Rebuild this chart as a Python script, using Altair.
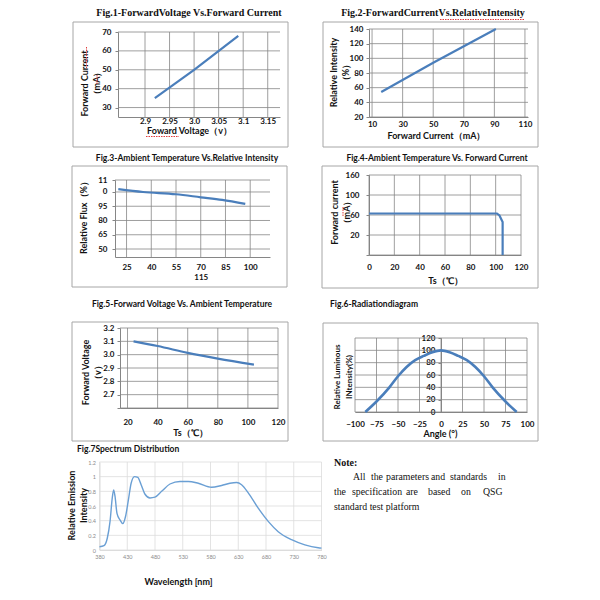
import altair as alt
import pandas as pd

# ---------------- data ----------------
fig1_voltage = [2.92, 3.00, 3.09]
fig1_current = [35, 50, 68]
fig1_xticks = [2.9, 2.95, 3.0, 3.05, 3.1, 3.15]
fig1_yticks = [30, 40, 50, 60, 70]

fig2_current = [16, 50, 91]
fig2_intensity = [54, 94, 140]
fig2_xticks = [10, 30, 50, 70, 90, 110]
fig2_yticks = [20, 40, 60, 80, 100, 120, 140]

fig3_temp = [20, 35, 55, 70, 83, 97]
fig3_flux = [113, 110, 107.6, 104.4, 101.6, 97.4]
fig3_xticks = [25, 40, 55, 70, 85, 100]
fig3_yticks = [50, 65, 80, 95, 110, 122.6]

fig4_temp = [0, 101, 103, 105.5, 105.5]
fig4_current = [83, 83, 79, 66, 0]
fig4_xticks = [0, 20, 40, 60, 80, 100, 120]
fig4_yticks = [0, 40, 80, 120, 160]

fig5_temp = [24, 40, 60, 80, 104]
fig5_voltage = [3.10, 3.065, 3.013, 2.97, 2.925]
fig5_xticks = [20, 40, 60, 80, 100, 120]
fig5_yticks = [2.6, 2.7, 2.8, 2.9, 3.0, 3.1, 3.2]

fig6_angle = [-88, -75, -60, -50, -40, -30, -20, -10, 0, 10, 20, 30, 40, 50, 60, 75, 88]
fig6_intensity = [0, 17, 40, 58, 73, 84, 91, 97, 100, 97, 91, 84, 73, 58, 40, 17, 0]
fig6_xticks = [-100, -75, -50, -25, 0, 25, 50, 75, 100]
fig6_yticks = [0, 20, 40, 60, 80, 100, 120]

fig7_wavelength = [380, 388, 394, 399, 403, 405.5, 408, 411.5, 417, 422, 427, 432, 437, 443,
                   449, 455, 462, 471, 480, 492, 507, 525, 540, 558, 582, 600, 615, 627, 636,
                   648, 666, 684, 702, 726, 750, 774, 780]
fig7_intensity = [0.045, 0.06, 0.16, 0.39, 0.71, 0.82, 0.73, 0.50, 0.41, 0.36, 0.46, 0.68, 0.91,
                  1.0, 0.99, 0.89, 0.76, 0.71, 0.72, 0.80, 0.90, 0.935, 0.935, 0.91, 0.855, 0.88,
                  0.91, 0.92, 0.89, 0.78, 0.57, 0.39, 0.25, 0.14, 0.07, 0.03, 0.025]
fig7_xticks = [380, 430, 480, 530, 580, 630, 680, 730, 780]
fig7_yticks = [0, 0.2, 0.4, 0.6, 0.8, 1.0, 1.2]

note_line1_words = ["All", "the", "parameters", "and", "standards", "in"]
note_line2_words = ["the", "specification", "are", "based", "on", "QSG"]
note_line3 = "standard test platform"

# ---------------- styling / layout ----------------
W, H, M = 584, 584, 8
BLUE = '#4a7ebb'
GRID = '#868686'
FRAME = '#a6a6a6'
SANS = 'Lato'
SERIF = 'Liberation Serif'


def panel(xs, ys, xdom, ydom, box, xticks, yticks, xlab=None, ylab=None,
          xtitle=None, xtpos=None, ytitle=None, ytpos=None, yaxis_at=None,
          xpad=3, ypad=4, fig7=False, interp='linear', color=BLUE, sw=2.2):
    left, right, top, bottom = box
    L, R, T, B = left - M, right - M, top - M, bottom - M
    df = pd.DataFrame({'x': xs, 'y': ys, 'i': list(range(len(xs)))})
    if fig7:
        lab = dict(labelFont=SANS, labelFontSize=5.5, labelFontWeight='normal', labelColor='#8c8c8c',
                   domainColor='#dcdcdc')
        gcol, gw = '#dcdcdc', 0.8
    else:
        lab = dict(labelFont=SANS, labelFontSize=8, labelFontWeight='bold', labelColor='#111111',
                   domainColor=GRID)
        gcol, gw = GRID, 0.8
    xa = dict(orient='bottom', offset=B - H, values=xticks, grid=False, ticks=False,
              labelPadding=xpad, labelFlush=False, labelOverlap=False, **lab)
    if xlab:
        xa['labelExpr'] = xlab
    if xtitle:
        xa.update(title=xtitle, titleX=xtpos[0] - M, titleY=xtpos[1] - bottom, titleAlign='center',
                  titleBaseline='middle', titleFont=SANS, titleFontSize=9, titleFontWeight='bold',
                  titleColor='#111111')
    else:
        xa['title'] = None
    ax_x = L if yaxis_at is None else yaxis_at - M
    ya = dict(orient='left', offset=-ax_x, values=yticks, grid=False, labelPadding=ypad,
              labelFlush=False, labelOverlap=False, **lab)
    if fig7:
        ya['ticks'] = False
    else:
        ya.update(ticks=True, tickSize=3, tickColor=GRID)
    if ylab:
        ya['labelExpr'] = ylab
    if ytitle:
        ya.update(title=ytitle, titleX=ytpos[0] - M - ax_x, titleY=ytpos[1] - M, titleAlign='center',
                  titleBaseline='middle', titleAngle=270, titleFont=SANS, titleFontSize=9,
                  titleFontWeight='bold', titleColor='#111111', titleLineHeight=12.5)
    else:
        ya['title'] = None

    def xs_():
        return alt.Scale(domain=xdom, range=[L, R], nice=False, zero=False)

    def ys_():
        return alt.Scale(domain=ydom, range=[B, T], nice=False, zero=False)

    xgrid = alt.Chart(pd.DataFrame({'v': xticks})).mark_rule(color=gcol, strokeWidth=gw).encode(
        x=alt.X('v:Q', scale=xs_(), axis=None),
        y=alt.YDatum(ydom[0], scale=ys_(), axis=None),
        y2=alt.Y2Datum(ydom[1]))
    ygrid = alt.Chart(pd.DataFrame({'v': yticks})).mark_rule(color=gcol, strokeWidth=gw).encode(
        y=alt.Y('v:Q', scale=ys_(), axis=None),
        x=alt.XDatum(xdom[0], scale=xs_(), axis=None),
        x2=alt.X2Datum(xdom[1]))
    line = alt.Chart(df).mark_line(color=color, strokeWidth=sw, interpolate=interp).encode(
        x=alt.X('x:Q', scale=xs_(), axis=alt.Axis(**xa)),
        y=alt.Y('y:Q', scale=ys_(), axis=alt.Axis(**ya)),
        order='i:Q')
    return [xgrid, ygrid, line]


def txt(s, x, y, size=8.5, font=SANS, weight='bold', angle=0, align='center', baseline='middle',
        color='#111111', lh=None):
    kw = dict(text=s, fontSize=size, font=font, fontWeight=weight, align=align, baseline=baseline, color=color)
    if angle:
        kw['angle'] = angle
    if lh:
        kw['lineHeight'] = lh
    return alt.Chart(alt.Data(values=[{}])).mark_text(**kw).encode(x=alt.value(x - M), y=alt.value(y - M))


def frame(x0, y0, x1, y1):
    return alt.Chart(alt.Data(values=[{}])).mark_rect(fillOpacity=0, stroke=FRAME, strokeWidth=1).encode(
        x=alt.value(x0 - M), x2=alt.value(x1 - M), y=alt.value(y0 - M), y2=alt.value(y1 - M))


def squiggle(x0, y0, x1, y1):
    # spell-check style red dotted underline seen in the reference
    return alt.Chart(alt.Data(values=[{}])).mark_rule(color='#e03c3c', strokeWidth=1, strokeDash=[1.5, 1]).encode(
        x=alt.value(x0 - M), x2=alt.value(x1 - M), y=alt.value(y0 - M), y2=alt.value(y1 - M))


layers = [
    frame(73, 22, 288, 147), frame(323, 22, 538, 147),
    frame(72, 166, 287, 287), frame(322, 166, 538, 288),
    frame(72, 322, 288, 441), frame(323, 323, 538, 441),
]

layers += panel(fig1_voltage, fig1_current, [2.845, 3.175], [25, 70], (118, 280, 32, 117),
                fig1_xticks, fig1_yticks,
                xlab="datum.value == 3 ? '3.0' : format(datum.value, '.2~f')",
                xtitle='Foward Voltage（v）', xtpos=(189, 130),
                ytitle=['Forward Current', '（mA）'], ytpos=(84, 83), xpad=0, ypad=4)
layers += panel(fig2_current, fig2_intensity, [8, 112], [20, 140], (369, 528, 29, 117),
                fig2_xticks, fig2_yticks,
                xtitle='Forward Current（mA）', xtpos=(436, 135),
                ytitle=['Relative Intensity', '（%）'], ytpos=(333, 72), xpad=3, ypad=3)
layers += panel(fig3_temp, fig3_flux, [18, 112], [41.6, 122.6], (115, 270, 180, 257),
                fig3_xticks, fig3_yticks,
                xlab="datum.value == 70 ? ['70', '115'] : datum.label",
                ylab="datum.value == 110 ? '0' : (datum.value > 120 ? '11' : datum.label)",
                ytitle='Relative Flux（%）', ytpos=(83, 215), xpad=6, ypad=5, interp='monotone')
layers += panel(fig4_temp, fig4_current, [0, 120], [0, 160], (369, 521, 175, 255),
                fig4_xticks, fig4_yticks,
                ylab="datum.value == 0 ? '' : datum.value == 120 ? '100' : datum.value == 80 ? '60' : datum.value == 40 ? '20' : datum.label",
                xtitle='Ts（℃）', xtpos=(445, 280),
                ytitle=['Forward current', '（mA）'], ytpos=(334, 212), xpad=8, ypad=7)
layers += panel(fig5_temp, fig5_voltage, [15, 120], [2.6, 3.2], (120, 278, 328, 408),
                fig5_xticks, fig5_yticks,
                ylab="datum.value < 2.65 ? '' : format(datum.value, '.1f')",
                xtitle='Ts（℃）', xtpos=(190, 432),
                ytitle=['Forward Voltage', '（v）'], ytpos=(85, 372), xpad=10, ypad=3, interp='monotone')
layers += panel(fig6_angle, fig6_intensity, [-100, 100], [0, 120], (355, 527, 338, 412),
                fig6_xticks, fig6_yticks, yaxis_at=441,
                xtitle='Angle (°)', xtpos=(440, 433), xpad=8, ypad=3, interp='monotone', sw=2.6)
layers += panel(fig7_wavelength, fig7_intensity, [380, 780], [0, 1.2], (99.5, 321.5, 462, 550),
                fig7_xticks, fig7_yticks, ylab="format(datum.value, '~g')",
                xtitle='Wavelength [nm]', xtpos=(178, 581),
                ytitle=['Relative Emission', 'Intensity'], ytpos=(71, 505), xpad=4, ypad=4,
                fig7=True, interp='monotone', color='#6a9fd4', sw=1.4)

NOTE_SIZE = 9.8
note1_x = [353, 371, 386, 431, 450, 498]
note2_x = [334, 352, 406, 428, 461, 483]

layers += [
    txt('Fig.1-ForwardVoltage Vs.Forward Current', 189, 12.5, size=10, font=SERIF),
    txt('Fig.2-ForwardCurrentVs.RelativeIntensity', 433, 12.5, size=10, font=SERIF),
    txt('Fig.3-Ambient Temperature Vs.Relative Intensity', 187, 158),
    txt('Fig.4-Ambient Temperature Vs. Forward Current', 437, 158),
    txt('Fig.5-Forward Voltage Vs. Ambient Temperature', 182, 304),
    txt('Fig.6-Radiationdiagram', 330, 304, align='left'),
    txt('Fig.7Spectrum Distribution', 77, 449, align='left'),
    txt(['Relative Luminous', 'INtensity(%)'], 338, 377, size=8, angle=270, lh=12),
    txt('Note:', 334, 463, size=10, font=SERIF, align='left'),
    txt(note_line3, 334, 507, size=NOTE_SIZE, font=SERIF, weight='normal', align='left'),
    squiggle(146, 136.5, 179, 136.5),
    squiggle(440, 19.5, 524, 19.5),
    squiggle(86.5, 47, 86.5, 68),
    squiggle(97, 75, 97, 84),
    squiggle(343, 207, 343, 217),
]
for wx, w in zip(note1_x, note_line1_words):
    layers.append(txt(w, wx, 477, size=NOTE_SIZE, font=SERIF, weight='normal', align='left'))
for wx, w in zip(note2_x, note_line2_words):
    layers.append(txt(w, wx, 492, size=NOTE_SIZE, font=SERIF, weight='normal', align='left'))

chart = alt.layer(*layers).resolve_scale(x='independent', y='independent').resolve_axis(
    x='independent', y='independent').properties(
    width=W, height=H, padding=0, autosize='none', background='white').configure_view(stroke=None)

chart.save("out.html", embed_options={"renderer": "svg", "actions": False})
